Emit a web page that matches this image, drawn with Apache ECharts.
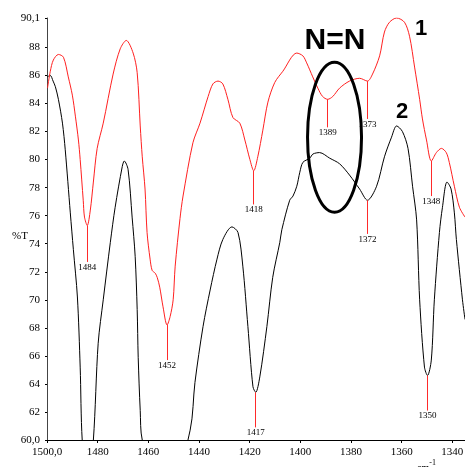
<!DOCTYPE html>
<html>
<head>
<meta charset="utf-8">
<script src="https://cdn.jsdelivr.net/npm/echarts@6/dist/echarts.min.js"></script>
<style>html,body{margin:0;padding:0;background:#fff}#c{width:465px;height:467px}</style>
</head>
<body>
<div id="c"></div>
<script>
// Spectrum 1 (red)
const redSpectrum = [
[1499.8,85.1],[1498.7,86.3],[1497.5,87.1],[1495.5,87.5],[1493.5,87.3],[1491.6,85.9],[1490.0,84.6],[1488.8,83.1],[1487.6,81.4],[1486.9,80.0],[1485.7,77.1],[1485.2,75.9],[1484.1,75.3],[1482.9,76.4],[1481.7,78.4],[1480.2,80.8],[1477.8,82.6],[1473.9,86.1],[1471.1,87.9],[1468.7,88.5],[1466.0,87.6],[1464.4,86.2],[1463.2,82.4],[1462.4,80.2],[1461.3,77.9],[1460.5,74.8],[1459.3,72.9],[1458.5,72.1],[1457.3,71.9],[1456.5,71.6],[1455.5,70.9],[1454.2,69.5],[1452.6,68.2],[1451.4,68.8],[1450.2,70.0],[1449.4,72.4],[1447.5,75.8],[1446.3,77.4],[1442.4,81.2],[1439.6,82.6],[1436.4,84.5],[1434.5,85.4],[1432.5,85.6],[1430.6,85.4],[1428.6,84.3],[1426.6,83.0],[1423.9,82.6],[1421.9,81.4],[1419.9,80.0],[1418.4,79.2],[1416.8,80.2],[1414.8,82.1],[1412.8,84.1],[1410.1,85.5],[1406.9,86.3],[1401.4,87.6],[1399.0,87.4],[1397.5,86.9],[1395.1,85.9],[1393.1,85.1],[1391.2,84.5],[1389.2,84.3],[1387.2,84.5],[1384.5,85.1],[1380.6,85.6],[1376.6,85.8],[1373.5,85.6],[1371.5,86.1],[1368.7,87.4],[1366.8,89.1],[1364.8,89.8],[1362.0,90.1],[1358.9,89.8],[1356.9,88.8],[1354.9,86.6],[1352.9,84.3],[1351.8,82.9],[1350.2,81.4],[1348.3,79.9],[1346.3,80.5],[1344.3,80.8],[1342.4,80.5],[1341.2,79.8],[1339.2,78.1],[1337.2,76.6],[1335.0,75.9]
];
// Spectrum 2 (black)
const blackSpectrum = [
[1499.9,85.9],[1498.7,86.0],[1497.6,85.6],[1496.7,85.2],[1495.5,84.3],[1493.9,82.6],[1492.8,80.7],[1490.8,76.2],[1489.6,73.6],[1488.0,70.2],[1486.9,65.2],[1486.1,60.0],[1484.0,56.5],[1481.7,60.0],[1479.8,66.9],[1477.8,70.0],[1475.0,74.1],[1473.1,76.6],[1470.3,79.5],[1469.5,79.9],[1468.0,79.3],[1466.4,75.9],[1465.2,73.1],[1464.4,69.3],[1464.0,65.9],[1463.2,62.1],[1462.4,60.0],[1453.0,55.0],[1443.5,60.7],[1441.6,64.1],[1438.4,68.1],[1435.6,70.7],[1432.9,72.9],[1430.6,74.3],[1427.0,75.2],[1424.6,74.8],[1422.7,72.4],[1420.7,68.1],[1418.7,63.8],[1417.6,63.4],[1416.0,64.5],[1413.2,68.1],[1410.9,71.6],[1408.1,74.1],[1407.3,75.0],[1404.2,77.1],[1402.9,77.4],[1401.4,78.1],[1400.2,79.1],[1399.0,79.8],[1396.3,80.1],[1395.0,80.4],[1392.4,80.5],[1388.4,80.1],[1384.5,79.7],[1380.6,78.9],[1376.6,77.9],[1373.5,77.1],[1369.9,78.1],[1366.8,80.2],[1364.0,81.6],[1362.0,82.4],[1359.7,82.0],[1357.5,80.8],[1355.7,78.1],[1354.1,75.7],[1352.9,70.0],[1351.0,65.2],[1349.8,64.6],[1348.3,65.7],[1347.1,70.0],[1345.1,74.8],[1343.9,76.6],[1342.1,78.4],[1340.5,77.9],[1339.2,76.2],[1338.4,74.3],[1336.0,70.0],[1335.0,68.6]
];
// Peak annotations
const redPeakLabels = ['1484','1452','1418','1389','1373','1348'];
const redPeakX      = [1484.1,1452.6,1418.4,1389.2,1373.5,1348.3];
const redPeakY      = [75.3,68.2,79.2,84.3,85.6,79.9];
const redPeakDrop   = [2.6,2.5,2.4,2.0,2.7,2.5];
const blackPeakLabels = ['1417','1372','1350'];
const blackPeakX      = [1417.6,1373.5,1349.8];
const blackPeakY      = [63.4,77.1,64.6];
const blackPeakDrop   = [2.5,2.4,2.5];
// Axis ticks
const xTicks = [1500,1480,1460,1440,1420,1400,1380,1360,1340];
const yTicks = [60,62,64,66,68,70,72,74,76,78,80,82,84,86,88,90.1];

const serif = 'Liberation Serif';
function peakLines(labels, xs, ys, drops){
  return labels.map((l,i)=>[{name:l, coord:[xs[i], ys[i]]},{coord:[xs[i], ys[i]-drops[i]]}]);
}
function markLineOf(labels, xs, ys, drops){
  return {
    silent:true, symbol:['none','none'], animation:false,
    lineStyle:{color:'#ff2a2a', width:1, type:'solid'},
    label:{show:true, position:'end', formatter:'{b}', distance:1, fontFamily:serif, fontSize:9, color:'#000'},
    emphasis:{disabled:true},
    data: peakLines(labels, xs, ys, drops)
  };
}

const chart = echarts.init(document.getElementById('c'), null, {renderer:'canvas'});
chart.setOption({
  animation:false,
  backgroundColor:'#fff',
  grid:{left:47, right:0, top:18, bottom:27, containLabel:false, outerBoundsMode:'none'},
  xAxis:{
    type:'value', inverse:true, min:1335, max:1500,
    axisLine:{show:true, onZero:false, lineStyle:{color:'#000', width:1}},
    axisTick:{show:true, length:3, customValues:xTicks, lineStyle:{color:'#000'}},
    axisLabel:{customValues:xTicks, fontFamily:serif, fontSize:11, color:'#000', margin:7,
      formatter:v=> v===1500 ? '1500,0' : String(v)},
    splitLine:{show:false}
  },
  yAxis:{
    type:'value', min:60, max:90.1,
    axisLine:{show:true, onZero:false, lineStyle:{color:'#444', width:1}},
    axisTick:{show:true, length:2, customValues:yTicks, lineStyle:{color:'#000'}},
    axisLabel:{customValues:yTicks, fontFamily:serif, fontSize:11, color:'#000', margin:7,
      formatter:v=> v===60 ? '60,0' : (Math.abs(v-90.1)<1e-6 ? '90,1' : String(v))},
    splitLine:{show:false}
  },
  series:[
    {type:'line', name:'1', data:redSpectrum, showSymbol:false, smooth:0.3, clip:true,
      lineStyle:{color:'#ff2020', width:1}, itemStyle:{color:'#ff2020'},
      markLine: markLineOf(redPeakLabels, redPeakX, redPeakY, redPeakDrop), z:3},
    {type:'line', name:'2', data:blackSpectrum, showSymbol:false, smooth:0.3, clip:true,
      lineStyle:{color:'#000', width:1}, itemStyle:{color:'#000'},
      markLine: markLineOf(blackPeakLabels, blackPeakX, blackPeakY, blackPeakDrop), z:2}
  ]
});

const ctr = chart.convertToPixel({gridIndex:0}, [1386.5, 81.6]);
chart.setOption({
  graphic:[
    {type:'ellipse', shape:{cx:ctr[0], cy:ctr[1], rx:27, ry:75}, style:{fill:'none', stroke:'#000', lineWidth:3}, z:10},
    {type:'text', x:335, y:41, style:{text:'N=N', font:'bold 30px "Liberation Sans"', fill:'#000', align:'center', verticalAlign:'middle'}, z:10},
    {type:'text', x:421, y:29, style:{text:'1', font:'bold 22px "Liberation Sans"', fill:'#000', align:'center', verticalAlign:'middle'}, z:10},
    {type:'text', x:402, y:112, style:{text:'2', font:'bold 22px "Liberation Sans"', fill:'#000', align:'center', verticalAlign:'middle'}, z:10},
    {type:'text', x:12, y:236, style:{text:'%T', font:'11px "Liberation Serif"', fill:'#000', verticalAlign:'middle'}, z:10},
    {type:'text', x:417, y:459, style:{text:'{a|cm}{b|-1}', fill:'#000', rich:{a:{fontFamily:serif, fontSize:10, verticalAlign:'bottom'}, b:{fontFamily:serif, fontSize:8, verticalAlign:'top', padding:[0,0,6,0]}}}, z:10}
  ]
});
</script>
</body>
</html>
